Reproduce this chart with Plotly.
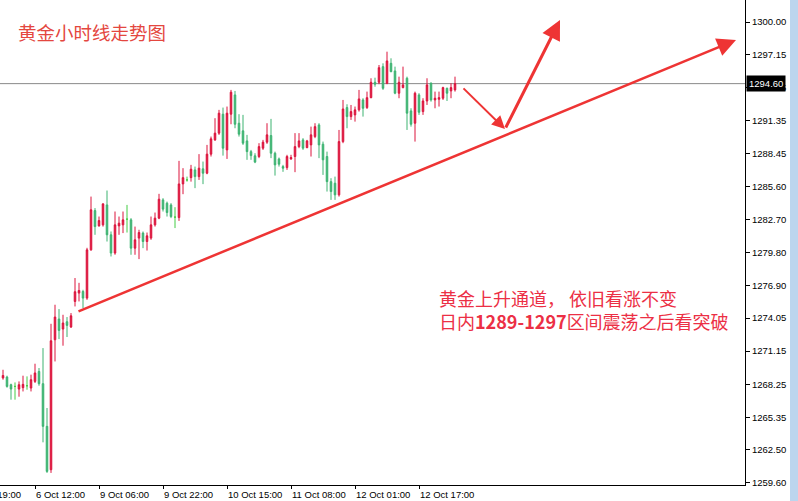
import plotly.graph_objects as go

# ---------------- data (XAUUSD H1) ----------------
open_ = [1268.80, 1268.88, 1268.21, 1268.06, 1267.83, 1267.95, 1268.12, 1267.92, 1268.50, 1269.37,
         1268.30, 1264.56, 1260.76, 1272.15, 1273.97, 1273.09, 1273.73, 1273.27, 1275.51, 1276.24,
         1276.38, 1275.80, 1280.03, 1283.47, 1282.13, 1282.22, 1283.97, 1281.35, 1279.75, 1282.13,
         1282.22, 1282.72, 1282.66, 1280.18, 1281.06, 1281.50, 1280.76, 1281.06, 1282.22, 1282.81,
         1284.41, 1284.12, 1283.97, 1282.90, 1282.86, 1285.81, 1286.16, 1286.36, 1287.04, 1286.45,
         1287.13, 1286.75, 1288.42, 1289.67, 1290.26, 1291.92, 1288.79, 1291.92, 1293.61, 1291.13,
         1290.46, 1289.58, 1288.64, 1288.27, 1288.21, 1288.94, 1289.47, 1290.05, 1288.50, 1288.00,
         1287.33, 1287.24, 1288.00, 1288.21, 1289.08, 1289.67, 1288.99, 1289.23, 1289.96, 1290.98,
         1289.29, 1288.21, 1286.01, 1285.87, 1284.85, 1289.52, 1292.50, 1291.71, 1291.86, 1292.30,
         1293.17, 1292.50, 1293.37, 1294.72, 1294.72, 1296.09, 1294.63, 1296.38, 1295.71, 1293.76,
         1294.25, 1295.07, 1292.21, 1291.13, 1293.61, 1292.15, 1293.08, 1294.63, 1293.17, 1293.23,
         1293.32, 1294.19, 1293.96, 1294.05]
high = [1269.52, 1269.00, 1268.30, 1268.41, 1268.50, 1269.00, 1268.94, 1269.09, 1270.05, 1269.67,
        1271.42, 1266.17, 1273.55, 1275.22, 1274.84, 1274.34, 1274.14, 1274.49, 1277.56, 1277.14,
        1276.53, 1280.21, 1284.70, 1283.69, 1282.95, 1284.12, 1285.23, 1281.64, 1283.39, 1282.95,
        1283.39, 1283.97, 1282.81, 1282.07, 1281.79, 1281.64, 1281.55, 1282.95, 1283.30, 1284.94,
        1284.56, 1284.26, 1284.12, 1283.77, 1287.83, 1287.19, 1286.45, 1287.48, 1287.33, 1288.42,
        1287.77, 1289.23, 1289.96, 1291.57, 1292.30, 1292.50, 1292.59, 1294.05, 1293.96, 1291.92,
        1291.86, 1290.11, 1288.79, 1288.50, 1289.38, 1289.67, 1291.13, 1291.51, 1288.64, 1288.12,
        1287.48, 1288.36, 1288.36, 1290.26, 1290.26, 1289.82, 1289.67, 1290.83, 1291.13, 1291.13,
        1289.52, 1288.64, 1286.31, 1286.45, 1290.54, 1293.17, 1292.79, 1292.73, 1292.59, 1294.05,
        1293.32, 1293.90, 1295.07, 1295.12, 1296.23, 1296.38, 1297.40, 1296.82, 1296.09, 1295.21,
        1296.09, 1295.21, 1292.44, 1293.90, 1293.76, 1293.32, 1295.07, 1294.72, 1293.90, 1293.90,
        1294.33, 1294.25, 1294.63, 1295.21]
low = [1268.65, 1267.95, 1266.90, 1266.90, 1267.16, 1267.62, 1267.77, 1267.62, 1268.36, 1268.12,
       1263.16, 1260.48, 1260.48, 1270.25, 1272.21, 1271.63, 1272.39, 1273.18, 1275.07, 1275.51,
       1274.93, 1275.65, 1279.95, 1281.35, 1282.07, 1282.07, 1280.76, 1279.45, 1279.60, 1281.35,
       1281.50, 1281.55, 1279.60, 1279.60, 1279.22, 1280.18, 1279.97, 1280.91, 1282.07, 1282.72,
       1283.39, 1282.95, 1282.81, 1281.94, 1282.57, 1284.91, 1286.01, 1286.01, 1285.44, 1286.16,
       1285.79, 1286.66, 1288.21, 1289.58, 1290.11, 1288.29, 1288.00, 1291.04, 1290.69, 1289.96,
       1289.23, 1287.92, 1287.92, 1287.63, 1288.07, 1288.79, 1289.32, 1288.07, 1286.54, 1287.33,
       1286.87, 1287.04, 1287.92, 1286.84, 1288.94, 1288.79, 1288.94, 1288.21, 1289.82, 1288.07,
       1286.60, 1285.14, 1284.41, 1284.41, 1284.70, 1289.38, 1290.69, 1291.42, 1291.27, 1292.15,
       1291.71, 1292.38, 1293.32, 1294.33, 1294.55, 1294.05, 1294.55, 1295.60, 1293.67, 1293.32,
       1294.19, 1290.54, 1290.83, 1289.52, 1291.86, 1291.86, 1292.73, 1293.02, 1292.44, 1292.59,
       1293.17, 1293.08, 1293.32, 1293.90]
close = [1269.02, 1268.06, 1267.83, 1268.06, 1268.21, 1268.24, 1268.12, 1268.65, 1269.24, 1268.30,
         1264.56, 1260.61, 1272.06, 1274.14, 1272.97, 1273.62, 1273.41, 1274.25, 1276.36, 1276.47,
         1275.80, 1280.03, 1283.54, 1282.07, 1282.60, 1284.06, 1281.35, 1279.75, 1282.22, 1282.37,
         1282.66, 1282.72, 1280.18, 1280.91, 1281.55, 1280.76, 1281.26, 1282.22, 1282.81, 1284.47,
         1283.60, 1283.30, 1282.95, 1282.90, 1285.81, 1286.36, 1286.16, 1287.10, 1286.45, 1287.19,
         1286.75, 1288.42, 1289.76, 1290.26, 1292.01, 1288.94, 1292.01, 1293.85, 1291.04, 1290.17,
         1289.38, 1288.64, 1288.29, 1287.72, 1289.08, 1289.47, 1290.11, 1288.50, 1287.48, 1287.54,
         1287.19, 1288.21, 1288.12, 1289.08, 1289.58, 1288.94, 1289.58, 1290.11, 1290.83, 1289.23,
         1287.92, 1286.01, 1285.14, 1284.85, 1289.52, 1292.38, 1291.71, 1292.15, 1292.30, 1293.26,
         1292.44, 1293.37, 1294.72, 1294.55, 1296.00, 1294.19, 1296.59, 1295.65, 1293.76, 1294.72,
         1294.49, 1292.01, 1291.04, 1293.76, 1292.09, 1293.08, 1294.49, 1293.17, 1293.32, 1293.37,
         1294.25, 1293.76, 1294.25, 1294.60]
bar_index = list(range(len(open_)))

price_ticks = [1300.00, 1297.15, 1294.25, 1291.35, 1288.45, 1285.60, 1282.70, 1279.80,
               1276.90, 1274.05, 1271.15, 1268.25, 1265.35, 1262.50, 1259.60]
time_tick_bars = [8, 24, 40, 56, 72, 88, 104]
time_tick_labels = ["6 Oct 12:00", "9 Oct 06:00", "9 Oct 22:00", "10 Oct 15:00",
                    "11 Oct 08:00", "12 Oct 01:00", "12 Oct 17:00"]
hidden_label_bar = -8
hidden_label = "5 Oct 19:00"
bid_price = 1294.60

# hand-drawn analysis lines (bar index, price)
trend_from, trend_to = (18.5, 1274.59), (183.25, 1298.42)
dip_from, dip_to = (114.75, 1294.31), (125.5, 1290.62)
rise_to = (139.25, 1300.18)

title_text = "黄金小时线走势图"
note_lines = ["黄金上升通道， 依旧看涨不变", "日内<b>1289-1297</b>区间震荡之后看突破"]

# ---------------- figure ----------------
UP, DOWN, DOJI = "#dc143c", "#3cb371", "#44cc44"
X0, X1 = -0.75, 185.5          # visible bar range
PLOT_W, PLOT_H = 745, 485       # plot area in pixels
doji = [i for i in bar_index if open_[i] == close[i]]
body = [i for i in bar_index if open_[i] != close[i]]

def pick(arr, idx):
    return [arr[i] for i in idx]

fig = go.Figure()
fig.add_trace(go.Candlestick(
    x=pick(bar_index, body), open=pick(open_, body), high=pick(high, body),
    low=pick(low, body), close=pick(close, body),
    increasing=dict(line=dict(color=UP, width=1), fillcolor=UP),
    decreasing=dict(line=dict(color=DOWN, width=1), fillcolor=DOWN),
    whiskerwidth=0, showlegend=False, hoverinfo="skip"))
fig.add_trace(go.Candlestick(
    x=pick(bar_index, doji), open=pick(open_, doji), high=pick(high, doji),
    low=pick(low, doji), close=pick(close, doji),
    increasing=dict(line=dict(color=DOJI, width=1), fillcolor=DOJI),
    decreasing=dict(line=dict(color=DOJI, width=1), fillcolor=DOJI),
    whiskerwidth=0, showlegend=False, hoverinfo="skip"))

# bid line
fig.add_shape(type="line", xref="paper", x0=0, x1=1, yref="y", y0=bid_price, y1=bid_price,
              line=dict(color="#8a8a8a", width=1), layer="below")
# window edge strip
fig.add_shape(type="rect", xref="paper", x0=790 / PLOT_W, x1=800 / PLOT_W, yref="paper",
              y0=-0.06, y1=1.02, line=dict(width=0), fillcolor="#bcd5ee", layer="above")

red = "#ee3434"
fig.add_annotation(x=trend_to[0], y=trend_to[1], ax=trend_from[0], ay=trend_from[1],
                   xref="x", yref="y", axref="x", ayref="y", text="", showarrow=True,
                   arrowhead=2, arrowsize=1.5, arrowwidth=2.5, arrowcolor=red, standoff=0)
fig.add_annotation(x=dip_to[0], y=dip_to[1], ax=dip_from[0], ay=dip_from[1],
                   xref="x", yref="y", axref="x", ayref="y", text="", showarrow=True,
                   arrowhead=2, arrowsize=1.3, arrowwidth=2, arrowcolor=red, standoff=0)
fig.add_annotation(x=rise_to[0], y=rise_to[1], ax=dip_to[0], ay=dip_to[1],
                   xref="x", yref="y", axref="x", ayref="y", text="", showarrow=True,
                   arrowhead=2, arrowsize=1.3, arrowwidth=3, arrowcolor=red, standoff=0)

cjk = "Noto Sans CJK SC"
fig.add_annotation(x=16 / PLOT_W, y=1 - 32 / PLOT_H, xref="paper", yref="paper", text=title_text,
                   showarrow=False, xanchor="left", yanchor="middle",
                   font=dict(family=cjk, size=18.5, color="#e4473f"))
fig.add_annotation(x=437 / PLOT_W, y=1 - 309 / PLOT_H, xref="paper", yref="paper",
                   text="<br>".join(note_lines), align="left",
                   showarrow=False, xanchor="left", yanchor="middle",
                   font=dict(family=cjk, size=18, color="#ec2f45"))

axis_font = dict(family="Liberation Sans", size=9.5, color="#000000")
fig.add_annotation(x=1, y=bid_price, xref="paper", yref="y", text=f"{bid_price:.2f}",
                   showarrow=False, xanchor="left", yanchor="middle", xshift=1,
                   bgcolor="#000000", borderpad=2,
                   font=dict(family="Liberation Sans", size=9.5, color="#ffffff"))

# time labels, left-aligned at their tick (MT4 style)
for b, lab in zip([hidden_label_bar] + time_tick_bars, [hidden_label] + time_tick_labels):
    fig.add_annotation(x=(b - X0) / (X1 - X0), y=0, xref="paper", yref="paper", text=lab,
                       showarrow=False, xanchor="left", yanchor="top", xshift=-1, yshift=-2,
                       font=axis_font)

fig.update_layout(
    width=798, height=501,
    margin=dict(l=0, r=798 - PLOT_W, t=0, b=501 - PLOT_H, pad=0),
    paper_bgcolor="#ffffff", plot_bgcolor="#ffffff",
    boxgap=0.45,
    showlegend=False,
    xaxis=dict(range=[X0, X1], rangeslider=dict(visible=False), showgrid=False,
               zeroline=False, showline=True, linecolor="#000000", linewidth=1,
               tickmode="array", tickvals=time_tick_bars, showticklabels=False,
               ticks="outside", ticklen=3, tickcolor="#000000", automargin=False),
    yaxis=dict(range=[1259.42, 1301.93], side="right", showgrid=False, zeroline=False,
               showline=True, linecolor="#000000", linewidth=1,
               tickmode="array", tickvals=price_ticks,
               ticktext=[f"{v:.2f}" for v in price_ticks],
               ticks="outside", ticklen=4, tickcolor="#000000", tickfont=axis_font,
               automargin=False),
)

fig.write_html("out.html", config={"displayModeBar": False, "staticPlot": True},
               post_script="document.body.style.margin='0';document.body.style.overflow='hidden';")
